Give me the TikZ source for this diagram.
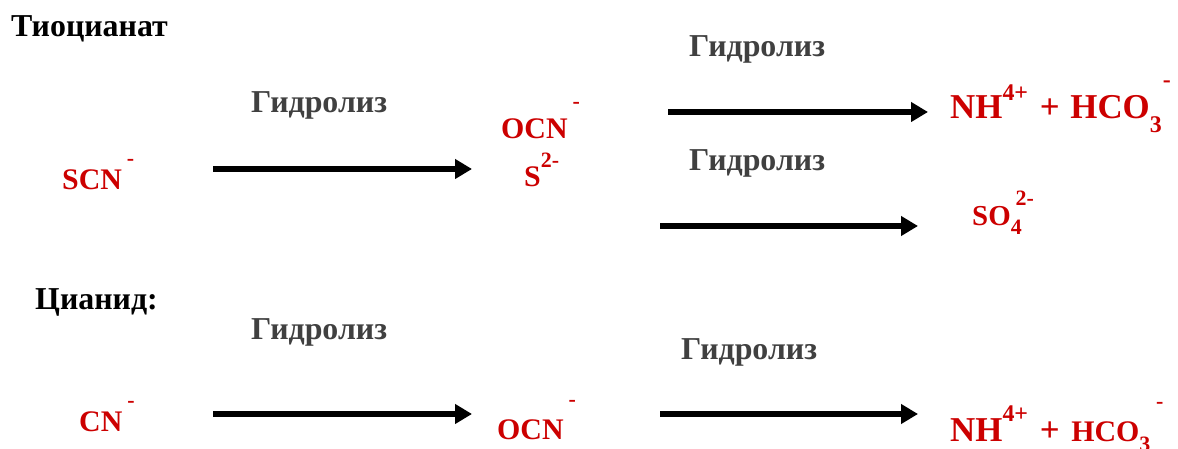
\documentclass[tikz,border=0pt]{standalone}
\usepackage{fontspec}
\setmainfont{Liberation Serif}
\usetikzlibrary{arrows.meta}
\definecolor{chemred}{RGB}{204,0,0}
\definecolor{labgray}{RGB}{64,64,64}
\newcommand{\fs}[1]{\fontsize{#1}{#1}\selectfont}
\newcommand{\up}[3]{\raisebox{#1bp}{\fs{#2}#3}}
\newcommand{\dn}[3]{\raisebox{-#1bp}{\fs{#2}#3}}
\tikzset{
  title/.style={anchor=base west, inner sep=0pt, font=\bfseries\fs{32}, text=black},
  lab/.style={anchor=base west, inner sep=0pt, font=\bfseries\fs{32}, text=labgray},
  chem/.style={anchor=base west, inner sep=0pt, font=\bfseries\fs{30}, text=chemred},
  rxn/.style={line width=5.5bp, -{Triangle[length=17bp,width=19bp]}, black}
}
\begin{document}
\begin{tikzpicture}[x=1bp,y=-1bp]
\useasboundingbox (0,0) rectangle (1178,449);
% titles
\node[title] (t1) at (11,37) {Тиоцианат};
\node[title] (t2) at (35,310) {Цианид:};
% labels
\node[lab] (l1) at (251,113) {Гидролиз};
\node[lab] (l2) at (689,57) {Гидролиз};
\node[lab] (l3) at (689,171) {Гидролиз};
\node[lab] (l4) at (251,340) {Гидролиз};
\node[lab] (l5) at (681,360) {Гидролиз};
% species
\node[chem] (scn) at (62,190) {SCN\,\up{24}{22}{-}};
\node[chem] (ocn1) at (501,139) {OCN\,\up{30}{22}{-}};
\node[chem] (s2) at (524,187) {S\up{19}{22}{2-}};
\node[chem, font=\bfseries\fs{35}] (p1) at (950,119) {NH\up{18}{24}{4+}\hspace{3bp} +\hspace{2bp} HCO\dn{14}{24}{3}\hspace{1bp}\up{31}{24}{-}};
\node[chem, font=\bfseries\fs{29}] (so4) at (972,226) {SO\rlap{\dn{9}{22}{4}}\,\up{20}{22}{2-}};
\node[chem] (cn) at (79,432) {CN\,\up{24}{22}{-}};
\node[chem] (ocn2) at (497,440) {OCN\,\up{33}{22}{-}};
\node[chem, font=\bfseries\fs{35}] (p2) at (950,442) {NH\up{20}{24}{4+}\hspace{3bp} +\hspace{3bp} {\fs{30}HCO}\dn{10}{22}{3}\,\up{33}{22}{-}};
% arrows
\coordinate (a1s) at (213,169); \coordinate (a1e) at (472,169);
\coordinate (a2s) at (668,112); \coordinate (a2e) at (928,112);
\coordinate (a3s) at (660,226); \coordinate (a3e) at (918,226);
\coordinate (a4s) at (213,414); \coordinate (a4e) at (472,414);
\coordinate (a5s) at (660,414); \coordinate (a5e) at (918,414);
\draw[rxn] (a1s) -- (a1e);
\draw[rxn] (a2s) -- (a2e);
\draw[rxn] (a3s) -- (a3e);
\draw[rxn] (a4s) -- (a4e);
\draw[rxn] (a5s) -- (a5e);
\end{tikzpicture}
\end{document}
